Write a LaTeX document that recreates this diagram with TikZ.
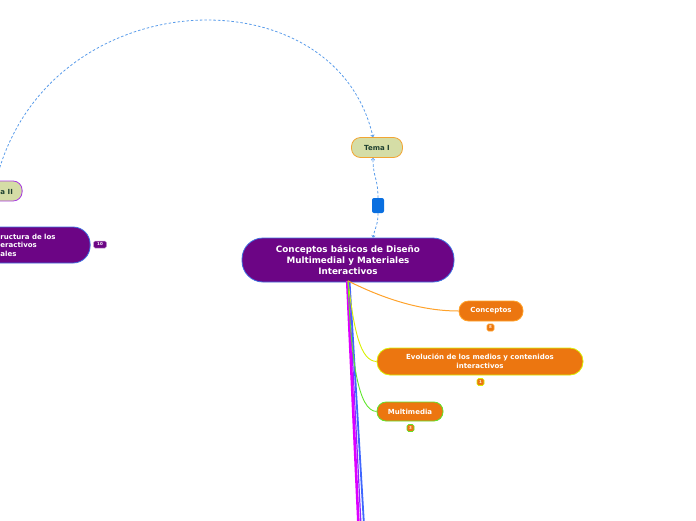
\documentclass[tikz,border=0pt]{standalone}
\usepackage{fontspec}
\setmainfont{DejaVu Sans}
\usetikzlibrary{arrows.meta}
\definecolor{mainpurple}{HTML}{6C0585}
\definecolor{mainborder}{HTML}{3F6FE0}
\definecolor{temafill}{HTML}{D5DDA6}
\definecolor{temaorange}{HTML}{F2A533}
\definecolor{temapurple}{HTML}{A83BE0}
\definecolor{temagreen}{HTML}{1E4030}
\definecolor{subfill}{HTML}{EC7610}
\definecolor{linkblue}{HTML}{5A9CEA}
\definecolor{relblue}{HTML}{0A6FE0}
\definecolor{conorange}{HTML}{FFA22A}
\definecolor{evoyellow}{HTML}{D8F000}
\definecolor{mulgreen}{HTML}{5EE62A}
\definecolor{branchmag}{HTML}{DD00FF}
\definecolor{branchvio}{HTML}{8A2BFF}
\definecolor{branchblue}{HTML}{3F66FF}
\begin{document}
\begin{tikzpicture}[x=1pt,y=-1pt,
  pill/.style={draw, rectangle, line width=0.8pt, inner sep=0pt, align=center},
  mainnode/.style={pill, fill=mainpurple, draw=mainborder, text=white,
    font=\fontsize{8.8}{11}\selectfont\bfseries},
  temanode/.style={pill, fill=temafill, text=temagreen,
    font=\fontsize{7}{9}\selectfont\bfseries},
  subnode/.style={pill, fill=subfill, text=white,
    font=\fontsize{7}{9}\selectfont\bfseries},
  badge/.style={draw=#1, fill=subfill, rectangle, rounded corners=1.5pt, line width=0.6pt,
    minimum width=7pt, minimum height=7pt, inner sep=0pt, text=white!85!subfill,
    font=\fontsize{4}{4}\selectfont\bfseries},
  lefttext/.style={anchor=west, text=white, inner sep=0pt,
    font=\fontsize{7}{9}\selectfont\bfseries},
  link/.style={draw=linkblue, line width=0.8pt, dash pattern=on 2.5pt off 2pt},
  tip/.style={-{To[length=2.5pt,width=4pt]}}
]
\useasboundingbox (0,0) rectangle (696,520);

% main node
\node[mainnode, minimum width=212pt, minimum height=44pt, rounded corners=21pt] (c) at (348,260)
  {Conceptos básicos de Diseño\\Multimedial y Materiales\\Interactivos};

% Tema I and Tema II
\node[temanode, draw=temaorange, minimum width=51pt, minimum height=20pt, rounded corners=9pt] (t1) at (377,147.5) {Tema I};
\node[temanode, draw=temapurple, minimum width=52pt, minimum height=20pt, rounded corners=9pt, anchor=east] (t2) at (22.5,191) {};
\node[anchor=west, inner sep=0pt, text=temagreen, font=\fontsize{7}{9}\selectfont\bfseries] (t2txt) at (0.3,191.5) {a II};

% relation marker
\node[fill=relblue, rectangle, rounded corners=2pt, minimum width=12pt, minimum height=15pt, inner sep=0pt] (rel) at (378,205.5) {};

% left purple node (clipped)
\node[pill, fill=mainpurple, draw=mainborder, minimum width=180pt, minimum height=36pt, rounded corners=17pt, anchor=east] (ln) at (90.5,245) {};
\node[lefttext] (l1) at (0.3,236.5) {ructura de los};
\node[lefttext] (l2) at (0.3,245.3) {eractivos};
\node[lefttext] (l3) at (0.3,253.8) {ales};
\node[draw=white!60!mainpurple, fill=mainpurple, rectangle, rounded corners=1.5pt, line width=0.5pt,
  minimum width=13pt, minimum height=7pt, inner sep=0pt, text=white,
  font=\fontsize{4}{4}\selectfont\bfseries] (lb) at (100,244.5) {10};

% sub nodes
\node[subnode, draw=conorange, minimum width=64pt, minimum height=20pt, rounded corners=9.5pt] (con) at (491,311) {Conceptos};
\node[subnode, draw=evoyellow, minimum width=206pt, minimum height=27pt, rounded corners=13pt] (evo) at (480,361.5)
  {Evolución de los medios y contenidos\\interactivos};
\node[subnode, draw=mulgreen, minimum width=66pt, minimum height=19pt, rounded corners=9pt] (mul) at (410,411.5) {Multimedia};

\node[badge=conorange] (b1) at (490.5,327.5) {8};
\node[badge=evoyellow] (b2) at (480.5,382) {1};
\node[badge=mulgreen] (b3) at (410.5,428) {3};

% dashed links
\draw[link, tip] (t2.north) .. controls +(50,-201) and +(-38,-167) .. ([xshift=-4pt]t1.north);
\draw[link, tip] (rel.north) .. controls +(0,-20) and +(0,20) .. ([xshift=-4pt]t1.south);
\draw[link, tip] (rel.south) .. controls +(0,12) and +(2,-10) .. ([xshift=25pt]c.north);

% branches
\coordinate (e1) at (358.5,525);
\coordinate (e2) at (361,525);
\coordinate (e3) at (364,525);
\draw[line width=1.8pt, branchblue] ([xshift=1.5pt,yshift=1.5pt]c.south) -- (e3);
\draw[line width=1.2pt, branchvio] ([xshift=0.5pt,yshift=1.5pt]c.south) -- (e2);
\draw[line width=2.6pt, branchmag] ([xshift=-0.8pt,yshift=1.5pt]c.south) -- (e1);
\draw[line width=1pt, conorange] ([yshift=1.5pt]c.south) .. controls (382,298) and (420,311) .. (con.west);
\draw[line width=0.9pt, evoyellow] ([yshift=1.5pt]c.south) .. controls (354,330) and (360,361) .. (evo.west);
\draw[line width=0.9pt, mulgreen] ([yshift=1.5pt]c.south) .. controls (351,360) and (358,411) .. (mul.west);
\end{tikzpicture}
\end{document}
